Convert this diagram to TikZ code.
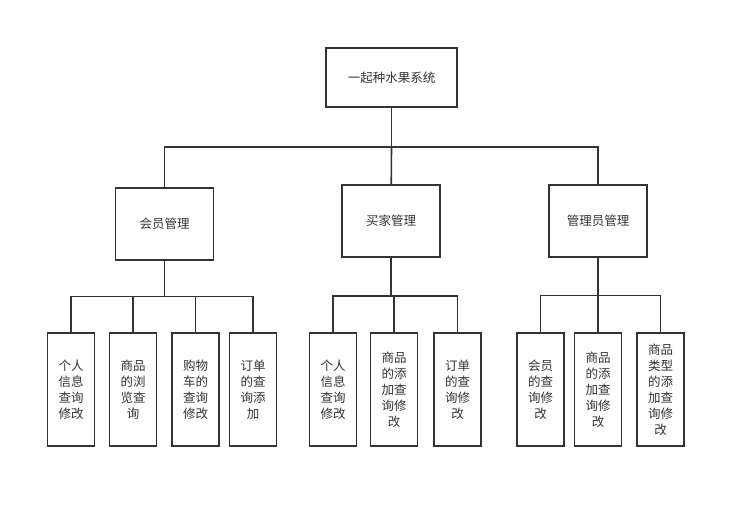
\documentclass[tikz,border=0pt]{standalone}
\usepackage{fontspec}
\usepackage{xcolor}
\usepackage{tikz}
\newfontfamily\cjk{Noto Sans CJK SC}
\definecolor{ink}{HTML}{333333}

\begin{document}
\begin{tikzpicture}[x=1pt, y=-1pt,
  box/.style={rectangle, draw=ink, line width=1.6pt, fill=white, text=ink,
    align=center, inner sep=2pt, font=\cjk\fontsize{12.5}{16}\selectfont},
  topbox/.style={box, minimum width=131pt, minimum height=59pt},
  midbox/.style={box, minimum width=98pt, minimum height=72pt},
  leafbox/.style={box, minimum width=47pt, minimum height=113pt},
  conn/.style={draw=ink, line width=1.6pt}]
\useasboundingbox (0,0) rectangle (745,507);
\node[topbox] (root) at (391.5,77.5) {一起种水果系统};
\node[midbox] (mem) at (164.5,224) {会员管理};
\node[midbox] (buy) at (391,221) {买家管理};
\node[midbox] (adm) at (598,221) {管理员管理};
% member leaves
\node[leafbox] (m1) at (71,389.5) {个人\\信息\\查询\\修改};
\node[leafbox] (m2) at (133,389.5) {商品\\的浏\\览查\\询};
\node[leafbox] (m3) at (195.5,389.5) {购物\\车的\\查询\\修改};
\node[leafbox] (m4) at (253,389.5) {订单\\的查\\询添\\加};
% buyer leaves
\node[leafbox] (b1) at (333,389.5) {个人\\信息\\查询\\修改};
\node[leafbox] (b2) at (394,389.5) {商品\\的添\\加查\\询修\\改};
\node[leafbox] (b3) at (457.5,389.5) {订单\\的查\\询修\\改};
% admin leaves
\node[leafbox] (a1) at (540.5,389.5) {会员\\的查\\询修\\改};
\node[leafbox] (a2) at (598,389.5) {商品\\的添\\加查\\询修\\改};
\node[leafbox] (a3) at (660.5,389.5) {商品\\类型\\的添\\加查\\询修\\改};
% buses
\coordinate (bus0) at (391.5,147);
\coordinate (bus1) at (164.5,296.5);
\coordinate (bus2) at (391,296);
\coordinate (bus3) at (598,295.5);
\draw[conn] (root) -- (bus0);
\draw[conn] (bus0) -| (mem);
\draw[conn] (bus0) -- (buy);
\draw[conn] (bus0) -| (adm);
\draw[conn] (mem) -- (bus1);
\foreach \n in {m1,m2,m3,m4} \draw[conn] (bus1) -| (\n);
\draw[conn] (buy) -- (bus2);
\foreach \n in {b1,b2,b3} \draw[conn] (bus2) -| (\n);
\draw[conn] (adm) -- (bus3);
\foreach \n in {a1,a2,a3} \draw[conn] (bus3) -| (\n);
\end{tikzpicture}
\end{document}
